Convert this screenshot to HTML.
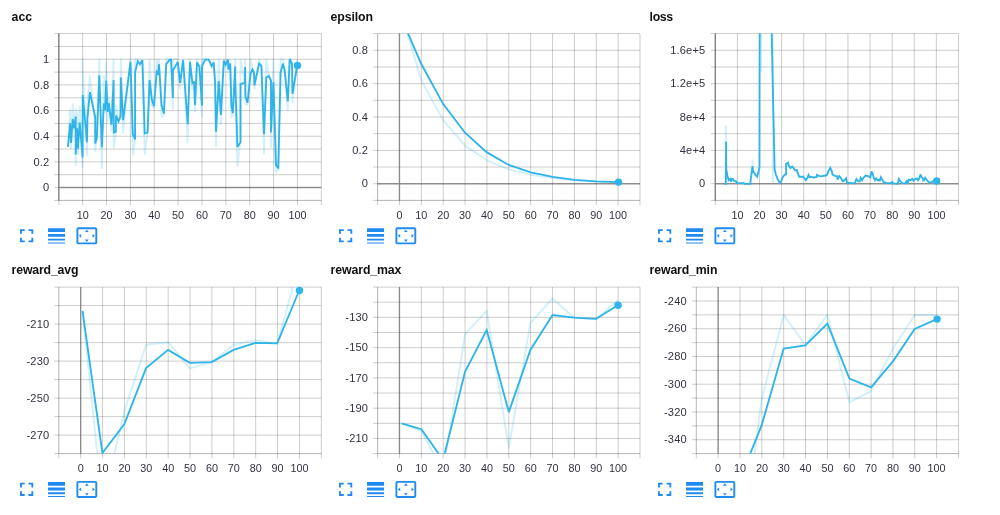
<!DOCTYPE html>
<html><head><meta charset="utf-8"><title>TensorBoard scalars</title>
<style>
html,body{margin:0;padding:0;background:#fff;}
body{width:1000px;height:515px;overflow:hidden;font-family:"Liberation Sans",Arial,sans-serif;}
svg{display:block;position:absolute;left:0;top:0;}
.t{font:bold 12.3px "Liberation Sans",Arial,sans-serif;fill:#111;}
.a{font:10.9px "Liberation Sans",Arial,sans-serif;fill:#32313f;letter-spacing:.15px;}
.x{font:10.8px "Liberation Sans",Arial,sans-serif;fill:#32313f;}
.g{stroke:#3c3c3c;stroke-opacity:.255;stroke-width:1;fill:none;}
.z{stroke:#4a4a4a;stroke-opacity:.52;stroke-width:1.4;fill:none;}
.b{stroke:#3c3c3c;stroke-opacity:.16;stroke-width:1;fill:none;}
.s{stroke:#2fb4ea;stroke-width:1.85;fill:none;stroke-linejoin:miter;stroke-miterlimit:3;stroke-linecap:butt;}
.r{stroke:#33bbee;stroke-opacity:.22;stroke-width:1.9;fill:none;stroke-linejoin:round;}
.d{fill:#2fb4ea;}
.i{fill:#1f8bf0;}
</style></head><body>
<svg width="1000" height="515" viewBox="0 0 1000 515">
<defs>
<g id="ic">
<path transform="translate(0,0) scale(0.945)" d="M7 14H5v5h5v-2H7v-3zm-2-4h2V7h3V5H5v5zm12 7h-3v2h5v-5h-2v3zM14 5v2h3v3h2V5h-5z"/>
<path transform="translate(29.9,0.1) scale(0.945)" d="M3 17h18v-2H3v2zm0 3h18v-1H3v1zm0-7h18v-3H3v3zm0-9v4h18V4H3z"/>
<path transform="translate(60.2,0.1) scale(0.945)" d="M12.01 5.5L10 8h4l-1.99-2.5zM18 10v4l2.5-1.99L18 10zM6 10l-2.5 2.01L6 14v-4zm8 6h-4l2.01 2.5L14 16zm7-13H3c-1.1 0-2 .9-2 2v14c0 1.1.9 2 2 2h18c1.1 0 2-.9 2-2V5c0-1.1-.9-2-2-2zm0 16.01H3V4.99h18v14.02z"/>
</g>
</defs>

<g>
<text class="t" x="11.6" y="20.7" textLength="20.6" lengthAdjust="spacing">acc</text>
<clipPath id="c0"><rect x="58.8" y="33.6" width="262.5" height="166.8"/></clipPath>
<path class="g" d="M58.80,33.6V205.1M82.66,33.6V205.1M106.53,33.6V205.1M130.39,33.6V205.1M154.25,33.6V205.1M178.12,33.6V205.1M201.98,33.6V205.1M225.85,33.6V205.1M249.71,33.6V205.1M273.57,33.6V205.1M297.44,33.6V205.1M321.30,33.6V205.1M54.2,33.60H321.3M54.2,46.43H321.3M54.2,59.26H321.3M54.2,72.09H321.3M54.2,84.92H321.3M54.2,97.75H321.3M54.2,110.58H321.3M54.2,123.42H321.3M54.2,136.25H321.3M54.2,149.08H321.3M54.2,161.91H321.3M54.2,174.74H321.3M54.2,187.57H321.3M54.2,200.40H321.3"/>
<path class="z" d="M58.80,33.6V200.4M58.8,187.57H321.3"/>
<path class="b" d="M58.80,33.6V200.4M58.8,200.40H321.3"/>
<g clip-path="url(#c0)">
<polyline class="r" points="68.0,146.9 70.1,109.4 71.1,148.3 72.7,104.3 74.2,130.9 75.7,109.5 75.7,165.2 77.1,112.2 77.9,154.4 79.7,106.4 82.6,167.3 82.7,59.3 87.0,155.6 87.4,103.8 89.9,76.1 95.2,124.3 95.2,150.8 96.9,134.0 99.3,59.3 101.8,167.9 103.9,76.1 105.1,112.2 106.2,62.3 107.6,120.9 108.8,97.9 111.5,130.9 113.6,59.3 113.8,147.2 115.8,131.4 116.1,105.5 118.5,122.9 120.5,113.8 120.8,59.3 123.1,132.2 130.5,59.3 132.8,154.5 135.1,140.8 135.1,59.3 137.7,59.3 140.0,65.1 142.4,59.3 144.7,154.2 147.6,131.7 149.6,59.3 151.9,105.3 154.0,108.0 156.7,59.3 158.1,74.0 159.0,59.3 161.6,117.2 163.9,116.0 166.2,59.3 169.7,59.3 171.1,59.6 172.9,108.8 172.9,59.3 177.8,59.3 180.1,88.8 183.1,59.3 187.7,142.3 190.0,59.3 192.4,88.8 194.1,81.9 195.0,111.4 197.0,59.3 199.4,67.7 202.0,116.6 202.0,59.3 205.2,59.3 208.7,59.6 211.6,67.8 213.7,60.3 215.1,87.9 216.0,145.8 218.8,59.3 220.9,124.4 223.8,59.3 225.6,66.0 227.9,59.3 228.5,72.3 230.2,60.1 231.4,117.4 232.8,115.3 235.2,59.3 235.2,82.2 237.4,166.1 240.5,139.4 240.5,59.3 244.8,82.2 245.1,59.3 245.4,104.5 247.5,104.5 250.6,59.3 252.4,67.0 254.1,73.9 254.4,88.6 259.1,59.3 261.4,66.6 264.0,153.3 266.3,59.3 268.7,74.8 271.0,81.8 271.0,147.0 273.4,59.3 276.0,172.0 278.3,169.5 280.6,59.3 283.0,59.3 284.7,72.6 287.8,110.2 289.7,59.3 292.0,65.0 292.5,102.5 297.2,59.3"/>
<polyline class="s" points="68.0,146.9 70.1,123.6 71.1,142.9 72.7,119.0 74.2,128.3 75.7,116.6 75.7,154.5 77.1,128.3 77.9,148.7 79.7,122.5 82.6,157.4 82.7,95.1 87.0,142.3 87.4,118.4 89.9,92.2 95.2,117.2 95.2,143.4 96.9,137.6 99.3,75.3 101.8,147.5 103.9,103.2 105.1,110.2 106.2,80.5 107.6,112.0 108.8,103.2 111.5,124.8 113.6,80.0 113.8,132.4 115.8,131.8 116.1,115.5 118.5,121.3 120.5,116.6 120.8,77.4 123.1,120.1 130.5,61.9 132.8,134.1 135.1,139.4 135.1,72.4 137.7,61.3 140.0,64.2 142.4,60.2 144.7,133.5 147.6,132.4 149.6,80.0 151.9,99.8 154.0,106.2 156.7,71.8 158.1,73.5 159.0,64.2 161.6,105.6 163.9,113.7 166.2,64.2 169.7,59.6 171.1,59.6 172.9,98.0 172.9,70.6 177.8,61.9 180.1,82.9 183.1,60.2 187.7,124.2 190.0,61.9 192.4,82.9 194.1,82.3 195.0,105.0 197.0,62.5 199.4,66.6 202.0,105.6 202.0,66.0 205.2,59.6 208.7,59.6 211.6,66.0 213.7,62.5 215.1,82.3 216.0,131.8 218.8,81.1 220.9,114.9 223.8,60.7 225.6,64.8 227.9,59.6 228.5,69.5 230.2,63.6 231.4,105.6 232.8,113.2 235.2,66.6 235.2,78.8 237.4,146.9 240.5,142.3 240.5,84.0 244.8,82.9 245.1,67.1 245.4,96.3 247.5,102.7 250.6,73.5 252.4,69.5 254.1,73.0 254.4,85.2 259.1,63.6 261.4,66.0 264.0,134.1 266.3,77.6 268.7,75.9 271.0,80.5 271.0,132.4 273.4,82.3 276.0,165.0 278.3,168.5 280.6,72.4 283.0,63.6 284.7,70.6 287.8,101.5 289.7,59.0 292.0,63.6 292.5,93.9 297.2,65.4"/>
</g>
<circle class="d" cx="297.5" cy="65.4" r="3.7"/>
<text class="a" text-anchor="end" transform="translate(49.35,63.01) scale(1.02,1)">1</text>
<text class="a" text-anchor="end" transform="translate(49.35,88.67) scale(1.02,1)">0.8</text>
<text class="a" text-anchor="end" transform="translate(49.35,114.33) scale(1.02,1)">0.6</text>
<text class="a" text-anchor="end" transform="translate(49.35,140.00) scale(1.02,1)">0.4</text>
<text class="a" text-anchor="end" transform="translate(49.35,165.65) scale(1.02,1)">0.2</text>
<text class="a" text-anchor="end" transform="translate(49.35,191.32) scale(1.02,1)">0</text>
<text class="x" text-anchor="middle" x="82.7" y="218.8">10</text>
<text class="x" text-anchor="middle" x="106.5" y="218.8">20</text>
<text class="x" text-anchor="middle" x="130.4" y="218.8">30</text>
<text class="x" text-anchor="middle" x="154.3" y="218.8">40</text>
<text class="x" text-anchor="middle" x="178.1" y="218.8">50</text>
<text class="x" text-anchor="middle" x="202.0" y="218.8">60</text>
<text class="x" text-anchor="middle" x="225.8" y="218.8">70</text>
<text class="x" text-anchor="middle" x="249.7" y="218.8">80</text>
<text class="x" text-anchor="middle" x="273.6" y="218.8">90</text>
<text class="x" text-anchor="middle" x="297.4" y="218.8">100</text>
<use class="i" href="#ic" x="15.3" y="224.4"/>
</g>
<g>
<text class="t" x="330.6" y="20.7" textLength="42.4" lengthAdjust="spacing">epsilon</text>
<clipPath id="c1"><rect x="377.6" y="33.6" width="262.4" height="166.8"/></clipPath>
<path class="g" d="M377.60,33.6V205.1M399.47,33.6V205.1M421.33,33.6V205.1M443.20,33.6V205.1M465.07,33.6V205.1M486.93,33.6V205.1M508.80,33.6V205.1M530.67,33.6V205.1M552.53,33.6V205.1M574.40,33.6V205.1M596.27,33.6V205.1M618.13,33.6V205.1M640.00,33.6V205.1M373.0,33.60H640.0M373.0,50.28H640.0M373.0,66.96H640.0M373.0,83.64H640.0M373.0,100.32H640.0M373.0,117.00H640.0M373.0,133.68H640.0M373.0,150.36H640.0M373.0,167.04H640.0M373.0,183.72H640.0M373.0,200.40H640.0"/>
<path class="z" d="M399.47,33.6V200.4M377.6,183.72H640.0"/>
<path class="b" d="M377.60,33.6V200.4M377.6,200.40H640.0"/>
<g clip-path="url(#c1)">
<polyline class="r" points="406.5,29.8 421.3,80.3 443.2,120.1 465.0,145.6 486.9,160.3 508.8,169.3 530.7,174.7 552.6,178.1 574.4,180.2 596.3,181.5 618.2,182.3"/>
<polyline class="s" points="406.5,29.8 421.3,64.0 443.2,104.1 465.0,132.7 486.9,152.4 508.8,165.0 530.7,172.3 552.6,176.8 574.4,179.8 596.3,181.3 618.2,182.1"/>
</g>
<circle class="d" cx="618.5" cy="182.1" r="3.7"/>
<text class="a" text-anchor="end" transform="translate(368.15,54.03) scale(1.02,1)">0.8</text>
<text class="a" text-anchor="end" transform="translate(368.15,87.39) scale(1.02,1)">0.6</text>
<text class="a" text-anchor="end" transform="translate(368.15,120.75) scale(1.02,1)">0.4</text>
<text class="a" text-anchor="end" transform="translate(368.15,154.11) scale(1.02,1)">0.2</text>
<text class="a" text-anchor="end" transform="translate(368.15,187.47) scale(1.02,1)">0</text>
<text class="x" text-anchor="middle" x="399.5" y="218.8">0</text>
<text class="x" text-anchor="middle" x="421.3" y="218.8">10</text>
<text class="x" text-anchor="middle" x="443.2" y="218.8">20</text>
<text class="x" text-anchor="middle" x="465.1" y="218.8">30</text>
<text class="x" text-anchor="middle" x="486.9" y="218.8">40</text>
<text class="x" text-anchor="middle" x="508.8" y="218.8">50</text>
<text class="x" text-anchor="middle" x="530.7" y="218.8">60</text>
<text class="x" text-anchor="middle" x="552.5" y="218.8">70</text>
<text class="x" text-anchor="middle" x="574.4" y="218.8">80</text>
<text class="x" text-anchor="middle" x="596.3" y="218.8">90</text>
<text class="x" text-anchor="middle" x="618.1" y="218.8">100</text>
<use class="i" href="#ic" x="334.3" y="224.4"/>
</g>
<g>
<text class="t" x="649.6" y="20.7" textLength="23.6" lengthAdjust="spacing">loss</text>
<clipPath id="c2"><rect x="715.3" y="33.6" width="243.2" height="166.8"/></clipPath>
<path class="g" d="M715.30,33.6V205.1M737.41,33.6V205.1M759.52,33.6V205.1M781.63,33.6V205.1M803.74,33.6V205.1M825.85,33.6V205.1M847.95,33.6V205.1M870.06,33.6V205.1M892.17,33.6V205.1M914.28,33.6V205.1M936.39,33.6V205.1M958.50,33.6V205.1M710.7,33.60H958.5M710.7,50.28H958.5M710.7,66.96H958.5M710.7,83.64H958.5M710.7,100.32H958.5M710.7,117.00H958.5M710.7,133.68H958.5M710.7,150.36H958.5M710.7,167.04H958.5M710.7,183.72H958.5M710.7,200.40H958.5"/>
<path class="z" d="M715.30,33.6V200.4M715.3,183.72H958.5"/>
<path class="b" d="M715.30,33.6V200.4M715.3,200.40H958.5"/>
<g clip-path="url(#c2)">
<polyline class="r" points="725.8,183.5 725.8,125.0"/>
<polyline class="r" points="752.5,166.0 752.5,159.5"/>
<polyline class="r" points="761.2,72.0 761.2,33.0"/>
<polyline class="r" points="772.9,33.0 772.9,183.5"/>
<polyline class="s" points="724.2,183.8 725.8,183.8 726.1,141.6 726.3,169.6 727.5,176.0 728.6,180.3 730.0,178.9 731.0,181.8 731.7,178.9 732.8,178.9 733.8,181.0 735.9,181.2 737.0,183.0 743.8,183.2 744.7,183.8 750.2,183.8 752.5,166.1 753.1,171.3 755.4,174.8 757.2,176.6 758.9,170.2 759.5,167.3 759.6,60.0 761.7,-430.0 774.6,169.6 775.8,174.3 777.5,178.9 779.9,183.0 781.4,180.8 782.9,176.7 784.7,174.9 786.1,174.4 786.1,163.9 788.2,162.7 788.7,165.6 790.5,167.9 792.2,166.6 794.0,168.5 794.9,170.3 796.9,170.0 797.5,172.6 799.2,176.7 803.3,176.7 803.9,177.8 805.9,180.2 807.4,177.8 808.5,174.9 809.7,177.3 811.4,176.7 813.2,177.5 816.7,177.0 817.0,174.9 819.0,175.9 821.3,176.3 825.4,175.5 827.2,174.7 828.3,171.4 830.3,167.9 831.8,171.4 832.6,174.7 834.7,175.9 837.1,176.1 837.6,179.6 839.4,176.1 840.6,177.5 842.9,181.3 844.0,180.5 845.2,179.6 846.1,178.4 847.0,182.9 848.7,182.9 854.5,183.3 854.7,183.3 856.4,179.0 858.2,181.3 859.9,181.3 860.7,177.8 862.2,180.2 863.4,177.8 865.7,175.5 868.6,176.3 870.4,177.5 871.5,171.4 872.7,173.8 873.9,177.8 875.0,180.2 876.2,178.4 877.4,180.2 879.1,179.6 879.7,181.3 880.9,177.3 882.6,180.2 883.8,182.2 886.1,182.9 890.8,183.1 892.2,181.9 893.1,183.3 897.7,183.7 898.9,179.0 900.7,181.7 902.4,183.1 905.3,183.3 907.1,180.2 907.6,183.7 908.8,179.6 910.6,180.2 912.3,178.7 913.5,180.8 915.2,179.0 917.0,178.4 918.1,180.2 919.3,178.4 920.5,174.4 921.6,177.3 922.8,178.4 923.4,181.3 925.1,177.8 926.9,180.2 928.6,181.9 930.0,182.5 931.4,182.2 933.8,181.0 936.4,181.0"/>
</g>
<circle class="d" cx="936.7" cy="181.0" r="3.7"/>
<text class="a" text-anchor="end" transform="translate(705.40,54.03) scale(1.02,1)">1.6e+5</text>
<text class="a" text-anchor="end" transform="translate(705.40,87.39) scale(1.02,1)">1.2e+5</text>
<text class="a" text-anchor="end" transform="translate(705.40,120.75) scale(1.02,1)">8e+4</text>
<text class="a" text-anchor="end" transform="translate(705.40,154.11) scale(1.02,1)">4e+4</text>
<text class="a" text-anchor="end" transform="translate(705.40,187.47) scale(1.02,1)">0</text>
<text class="x" text-anchor="middle" x="737.4" y="218.8">10</text>
<text class="x" text-anchor="middle" x="759.5" y="218.8">20</text>
<text class="x" text-anchor="middle" x="781.6" y="218.8">30</text>
<text class="x" text-anchor="middle" x="803.7" y="218.8">40</text>
<text class="x" text-anchor="middle" x="825.8" y="218.8">50</text>
<text class="x" text-anchor="middle" x="848.0" y="218.8">60</text>
<text class="x" text-anchor="middle" x="870.1" y="218.8">70</text>
<text class="x" text-anchor="middle" x="892.2" y="218.8">80</text>
<text class="x" text-anchor="middle" x="914.3" y="218.8">90</text>
<text class="x" text-anchor="middle" x="936.4" y="218.8">100</text>
<use class="i" href="#ic" x="653.3" y="224.4"/>
</g>
<g>
<text class="t" x="11.6" y="274.3" textLength="66.8" lengthAdjust="spacing">reward_avg</text>
<clipPath id="c3"><rect x="58.8" y="287.1" width="262.5" height="166.5"/></clipPath>
<path class="g" d="M58.80,287.1V458.3M80.67,287.1V458.3M102.55,287.1V458.3M124.42,287.1V458.3M146.30,287.1V458.3M168.18,287.1V458.3M190.05,287.1V458.3M211.93,287.1V458.3M233.80,287.1V458.3M255.68,287.1V458.3M277.55,287.1V458.3M299.43,287.1V458.3M321.30,287.1V458.3M54.2,287.10H321.3M54.2,305.60H321.3M54.2,324.10H321.3M54.2,342.60H321.3M54.2,361.10H321.3M54.2,379.60H321.3M54.2,398.10H321.3M54.2,416.60H321.3M54.2,435.10H321.3M54.2,453.60H321.3"/>
<path class="z" d="M80.68,287.1V453.6"/>
<path class="b" d="M58.80,287.1V453.6M58.8,453.60H321.3"/>
<g clip-path="url(#c3)">
<polyline class="r" points="82.5,310.8 102.4,503.7 124.4,411.1 146.1,344.7 168.1,342.2 189.8,368.4 211.8,362.1 233.5,344.7 255.5,340.1 277.2,343.6 299.2,264.3"/>
<polyline class="s" points="82.5,310.8 102.4,453.0 124.4,424.0 146.1,368.1 168.1,349.9 189.8,362.8 211.8,362.1 233.5,349.9 255.5,342.9 277.2,343.3 299.2,290.5"/>
</g>
<circle class="d" cx="299.5" cy="290.5" r="3.7"/>
<text class="a" text-anchor="end" transform="translate(49.35,327.85) scale(1.02,1)">-210</text>
<text class="a" text-anchor="end" transform="translate(49.35,364.85) scale(1.02,1)">-230</text>
<text class="a" text-anchor="end" transform="translate(49.35,401.85) scale(1.02,1)">-250</text>
<text class="a" text-anchor="end" transform="translate(49.35,438.85) scale(1.02,1)">-270</text>
<text class="x" text-anchor="middle" x="80.7" y="472.1">0</text>
<text class="x" text-anchor="middle" x="102.6" y="472.1">10</text>
<text class="x" text-anchor="middle" x="124.4" y="472.1">20</text>
<text class="x" text-anchor="middle" x="146.3" y="472.1">30</text>
<text class="x" text-anchor="middle" x="168.2" y="472.1">40</text>
<text class="x" text-anchor="middle" x="190.1" y="472.1">50</text>
<text class="x" text-anchor="middle" x="211.9" y="472.1">60</text>
<text class="x" text-anchor="middle" x="233.8" y="472.1">70</text>
<text class="x" text-anchor="middle" x="255.7" y="472.1">80</text>
<text class="x" text-anchor="middle" x="277.6" y="472.1">90</text>
<text class="x" text-anchor="middle" x="299.4" y="472.1">100</text>
<use class="i" href="#ic" x="15.3" y="478.0"/>
</g>
<g>
<text class="t" x="330.6" y="274.3" textLength="70.8" lengthAdjust="spacing">reward_max</text>
<clipPath id="c4"><rect x="377.6" y="287.1" width="262.4" height="166.5"/></clipPath>
<path class="g" d="M377.60,287.1V458.3M399.47,287.1V458.3M421.33,287.1V458.3M443.20,287.1V458.3M465.07,287.1V458.3M486.93,287.1V458.3M508.80,287.1V458.3M530.67,287.1V458.3M552.53,287.1V458.3M574.40,287.1V458.3M596.27,287.1V458.3M618.13,287.1V458.3M640.00,287.1V458.3M373.0,287.10H640.0M373.0,302.24H640.0M373.0,317.37H640.0M373.0,332.51H640.0M373.0,347.65H640.0M373.0,362.78H640.0M373.0,377.92H640.0M373.0,393.05H640.0M373.0,408.19H640.0M373.0,423.33H640.0M373.0,438.46H640.0M373.0,453.60H640.0"/>
<path class="z" d="M399.47,287.1V453.6"/>
<path class="b" d="M377.60,287.1V453.6M377.6,453.60H640.0"/>
<g clip-path="url(#c4)">
<polyline class="r" points="401.5,423.3 421.4,431.0 443.1,472.2 465.1,334.2 486.7,310.8 508.8,447.8 530.4,323.0 552.5,298.5 574.1,317.7 596.1,319.1 617.8,300.3"/>
<polyline class="s" points="401.5,423.3 421.4,429.2 443.1,460.0 465.1,371.6 486.7,330.0 508.8,412.1 530.4,349.9 552.5,315.0 574.1,317.7 596.1,318.8 617.8,305.2"/>
</g>
<circle class="d" cx="618.1" cy="305.2" r="3.7"/>
<text class="a" text-anchor="end" transform="translate(368.15,321.12) scale(1.02,1)">-130</text>
<text class="a" text-anchor="end" transform="translate(368.15,351.40) scale(1.02,1)">-150</text>
<text class="a" text-anchor="end" transform="translate(368.15,381.67) scale(1.02,1)">-170</text>
<text class="a" text-anchor="end" transform="translate(368.15,411.94) scale(1.02,1)">-190</text>
<text class="a" text-anchor="end" transform="translate(368.15,442.21) scale(1.02,1)">-210</text>
<text class="x" text-anchor="middle" x="399.5" y="472.1">0</text>
<text class="x" text-anchor="middle" x="421.3" y="472.1">10</text>
<text class="x" text-anchor="middle" x="443.2" y="472.1">20</text>
<text class="x" text-anchor="middle" x="465.1" y="472.1">30</text>
<text class="x" text-anchor="middle" x="486.9" y="472.1">40</text>
<text class="x" text-anchor="middle" x="508.8" y="472.1">50</text>
<text class="x" text-anchor="middle" x="530.7" y="472.1">60</text>
<text class="x" text-anchor="middle" x="552.5" y="472.1">70</text>
<text class="x" text-anchor="middle" x="574.4" y="472.1">80</text>
<text class="x" text-anchor="middle" x="596.3" y="472.1">90</text>
<text class="x" text-anchor="middle" x="618.1" y="472.1">100</text>
<use class="i" href="#ic" x="334.3" y="478.0"/>
</g>
<g>
<text class="t" x="649.6" y="274.3" textLength="67.8" lengthAdjust="spacing">reward_min</text>
<clipPath id="c5"><rect x="696.3" y="287.1" width="262.2" height="166.5"/></clipPath>
<path class="g" d="M696.30,287.1V458.3M718.15,287.1V458.3M740.00,287.1V458.3M761.85,287.1V458.3M783.70,287.1V458.3M805.55,287.1V458.3M827.40,287.1V458.3M849.25,287.1V458.3M871.10,287.1V458.3M892.95,287.1V458.3M914.80,287.1V458.3M936.65,287.1V458.3M958.50,287.1V458.3M691.7,287.10H958.5M691.7,300.98H958.5M691.7,314.85H958.5M691.7,328.73H958.5M691.7,342.60H958.5M691.7,356.48H958.5M691.7,370.35H958.5M691.7,384.23H958.5M691.7,398.10H958.5M691.7,411.98H958.5M691.7,425.85H958.5M691.7,439.73H958.5M691.7,453.60H958.5"/>
<path class="z" d="M718.15,287.1V453.6"/>
<path class="b" d="M696.30,287.1V453.6M696.3,453.60H958.5"/>
<g clip-path="url(#c5)">
<polyline class="r" points="720.2,520.0 740.0,566.6 761.7,398.8 783.7,315.0 805.3,344.7 827.4,315.0 849.4,402.3 871.1,391.1 893.1,348.2 914.7,315.0 936.8,315.0"/>
<polyline class="s" points="720.2,520.0 740.0,479.2 761.7,425.1 783.7,348.5 805.3,345.4 827.4,323.7 849.4,378.6 871.1,387.3 893.1,361.1 914.7,328.9 936.8,319.1"/>
</g>
<circle class="d" cx="937.1" cy="319.1" r="3.7"/>
<text class="a" text-anchor="end" transform="translate(686.85,304.73) scale(1.02,1)">-240</text>
<text class="a" text-anchor="end" transform="translate(686.85,332.48) scale(1.02,1)">-260</text>
<text class="a" text-anchor="end" transform="translate(686.85,360.23) scale(1.02,1)">-280</text>
<text class="a" text-anchor="end" transform="translate(686.85,387.98) scale(1.02,1)">-300</text>
<text class="a" text-anchor="end" transform="translate(686.85,415.73) scale(1.02,1)">-320</text>
<text class="a" text-anchor="end" transform="translate(686.85,443.48) scale(1.02,1)">-340</text>
<text class="x" text-anchor="middle" x="718.1" y="472.1">0</text>
<text class="x" text-anchor="middle" x="740.0" y="472.1">10</text>
<text class="x" text-anchor="middle" x="761.9" y="472.1">20</text>
<text class="x" text-anchor="middle" x="783.7" y="472.1">30</text>
<text class="x" text-anchor="middle" x="805.5" y="472.1">40</text>
<text class="x" text-anchor="middle" x="827.4" y="472.1">50</text>
<text class="x" text-anchor="middle" x="849.2" y="472.1">60</text>
<text class="x" text-anchor="middle" x="871.1" y="472.1">70</text>
<text class="x" text-anchor="middle" x="893.0" y="472.1">80</text>
<text class="x" text-anchor="middle" x="914.8" y="472.1">90</text>
<text class="x" text-anchor="middle" x="936.6" y="472.1">100</text>
<use class="i" href="#ic" x="653.3" y="478.0"/>
</g>
</svg></body></html>
